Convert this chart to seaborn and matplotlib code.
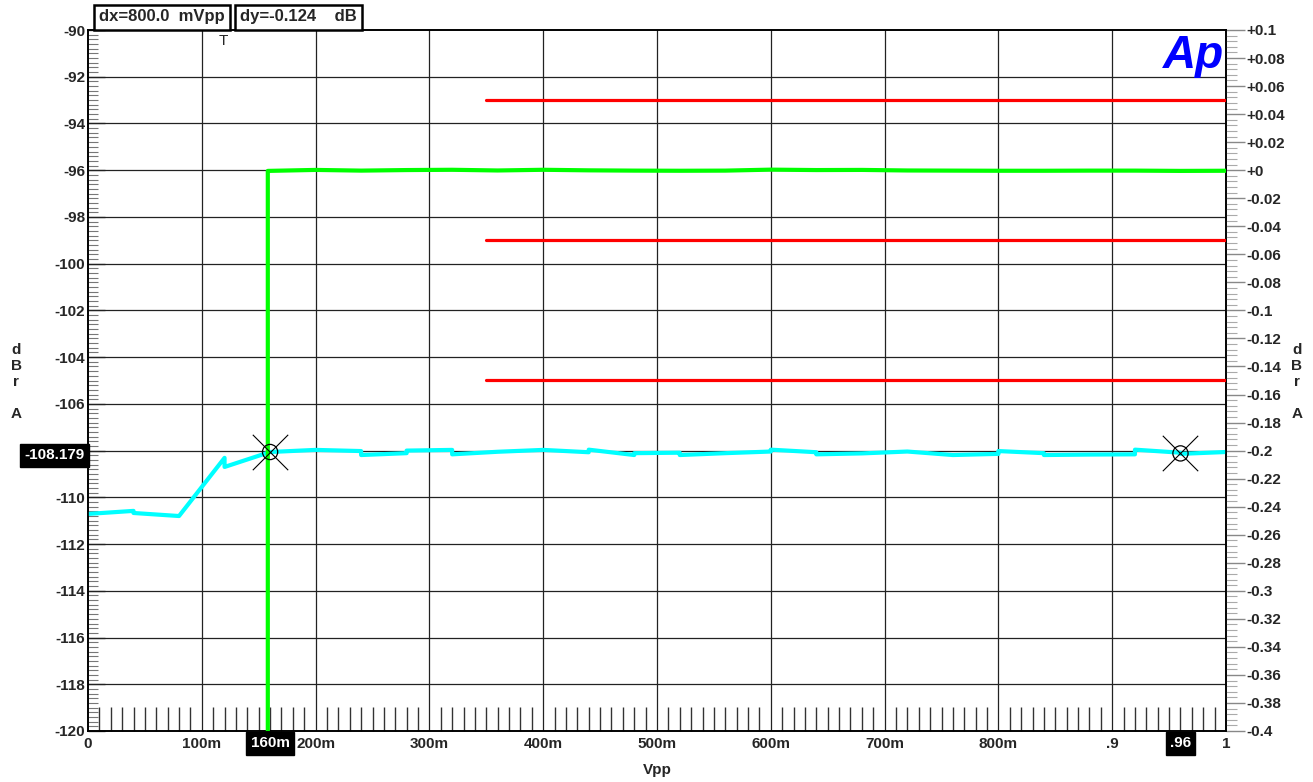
import numpy as np
import pandas as pd
import matplotlib
matplotlib.use("Agg")
import matplotlib.pyplot as plt
import matplotlib.transforms as mtrans
from matplotlib.ticker import MultipleLocator
import seaborn as sns

# ---------------- data ----------------
cyan_x = [0, 0.04, 0.04, 0.08, 0.12, 0.12, 0.16, 0.2, 0.24, 0.24, 0.28, 0.28,
          0.32, 0.32, 0.36, 0.4, 0.44, 0.44, 0.48, 0.48, 0.52, 0.52, 0.56,
          0.6, 0.6, 0.64, 0.64, 0.68, 0.72, 0.76, 0.8, 0.8, 0.84, 0.84,
          0.88, 0.92, 0.92, 0.96, 0.96, 1.0]
cyan_db = [-110.71, -110.58, -110.67, -110.80, -108.31, -108.70, -108.06,
           -107.97, -108.02, -108.19, -108.11, -108.00, -107.97, -108.16,
           -108.05, -107.97, -108.07, -107.96, -108.19, -108.11, -108.09,
           -108.19, -108.11, -108.04, -107.96, -108.07, -108.16, -108.12,
           -108.04, -108.19, -108.14, -108.02, -108.11, -108.19, -108.17,
           -108.16, -107.96, -108.09, -108.14, -108.06]

green_x = [0.158, 0.158, 0.2, 0.24, 0.28, 0.32, 0.36, 0.4, 0.44, 0.48, 0.52,
           0.56, 0.6, 0.64, 0.68, 0.72, 0.76, 0.8, 0.84, 0.88, 0.92, 0.96, 1.0]
green_db = [-0.6, -0.0005, 0.0002, -0.0003, 0.0001, 0.0003, -0.0002, 0.0003,
            -0.0001, -0.0003, -0.0004, -0.0003, 0.0004, 0.0001, 0.0002,
            -0.0002, -0.0003, -0.0004, -0.0004, -0.0003, -0.0003, -0.0005,
            -0.0004]

limit_x = [0.35, 1.0]
limit_levels = [0.05, -0.05, -0.15]

cursor_x = [0.16, 0.96]
cursor_db = [-108.06, -108.12]

x_ticks = [0, 0.1, 0.2, 0.3, 0.4, 0.5, 0.6, 0.7, 0.8, 0.9, 1.0]
x_labels = ["0", "100m", "200m", "300m", "400m", "500m", "600m", "700m",
            "800m", ".9", "1"]
left_ticks = list(range(-120, -89, 2))
right_ticks = [round(-0.4 + 0.02 * i, 2) for i in range(26)]

# ---------------- style ----------------
sns.set_style("white")
plt.rcParams["font.family"] = ["Liberation Sans", "DejaVu Sans"]
plt.rcParams["font.weight"] = "bold"
FS = 11

W, H = 1313, 782
fig = plt.figure(figsize=(W / 100, H / 100), dpi=100)
L, R, T, B = 88, 1226, 30, 731
ax = fig.add_axes([L / W, 1 - B / H, (R - L) / W, (B - T) / H])
ax2 = ax.twinx()

ax.set_xlim(0, 1)
ax.set_ylim(-120, -90)
ax2.set_ylim(-0.4, 0.1)

# grid
for xv in x_ticks[1:-1]:
    ax.axvline(xv, color="#222222", lw=0.9, zorder=1)
for yv in range(-118, -90, 2):
    ax.axhline(yv, color="#222222", lw=0.9, zorder=1)

# cyan trace (left axis)
df_c = pd.DataFrame({"x": cyan_x, "y": cyan_db})
sns.lineplot(data=df_c, x="x", y="y", ax=ax, estimator=None, sort=False,
             color="#00ffff", lw=3.0, zorder=3)

# green trace and red limits (right axis)
df_g = pd.DataFrame({"x": green_x, "y": green_db})
sns.lineplot(data=df_g, x="x", y="y", ax=ax2, estimator=None, sort=False,
             color="#00ff00", lw=3.0, zorder=3)
for lv in limit_levels:
    df_r = pd.DataFrame({"x": limit_x, "y": [lv, lv]})
    sns.lineplot(data=df_r, x="x", y="y", ax=ax2, estimator=None, sort=False,
                 color="#ff0000", lw=2.3, zorder=3)

# cursors (drawn on the top axes so they sit above the traces)
tr_c = ax.transData
ax2.scatter(cursor_x, cursor_db, s=120, facecolors="none", edgecolors="black",
            linewidths=0.9, zorder=6, transform=tr_c)
ax2.scatter(cursor_x, cursor_db, s=650, marker="x", color="black",
            linewidths=0.8, zorder=6, transform=tr_c)

# axes labels / ticks
for a in (ax, ax2):
    a.set_xlabel("")
    a.set_ylabel("")
    for s in a.spines.values():
        s.set_color("black")
        s.set_linewidth(1.2)

ax.set_xticks(x_ticks)
ax.set_xticklabels(x_labels, fontsize=FS, fontweight="bold")
ax.tick_params(axis="x", which="major", length=0, pad=4)
ax.xaxis.set_minor_locator(MultipleLocator(0.01))
ax.tick_params(axis="x", which="minor", direction="in", length=17, width=1,
               color="#333333", bottom=True)

ax.set_yticks(left_ticks)
ax.set_yticklabels(["" if v == -108 else str(v) for v in left_ticks],
                   fontsize=FS, fontweight="bold")
ax.tick_params(axis="y", which="major", direction="in", length=12, width=1,
               color="#555555", pad=2)
ax.yaxis.set_minor_locator(MultipleLocator(0.2))
ax.tick_params(axis="y", which="minor", direction="in", length=7, width=0.8,
               color="#777777", left=True)


def rfmt(v):
    if abs(v) < 1e-9:
        return "+0"
    s = ("%.2f" % v).rstrip("0").rstrip(".")
    if v > 0:
        s = "+" + s
    return s


ax2.set_yticks(right_ticks)
ax2.set_yticklabels([rfmt(v) for v in right_ticks], fontsize=FS,
                    fontweight="bold")
ax2.tick_params(axis="y", which="major", direction="out", length=14, width=1,
                color="#888888", pad=1)
ax2.yaxis.set_minor_locator(MultipleLocator(0.004))
ax2.tick_params(axis="y", which="minor", direction="out", length=8, width=0.8,
                color="#aaaaaa", right=True)

# axis titles
fig.text(657 / W, 1 - 770 / H, "Vpp", ha="center", va="center", fontsize=FS,
         fontweight="bold")
for xx in (16, 1297):
    fig.text(xx / W, 1 - 382 / H, "d\nB\nr\n\nA", ha="center", va="center",
             fontsize=FS, fontweight="bold", linespacing=1.2)

# cursor value boxes
trx = mtrans.blended_transform_factory(ax.transData, ax.transAxes)
bw = dict(boxstyle="square,pad=0.28", fc="black", ec="black")
ax.text(0.16, -0.0175, "160m", transform=trx, ha="center", va="center",
        color="white", fontsize=FS, fontweight="bold", bbox=bw, zorder=10,
        clip_on=False)
ax.text(0.96, -0.0175, ".96", transform=trx, ha="center", va="center",
        color="white", fontsize=FS, fontweight="bold", bbox=bw, zorder=10,
        clip_on=False)
try_ = mtrans.blended_transform_factory(ax.transAxes, ax.transData)
ax.text(-0.003, -108.2, "-108.179", transform=try_, ha="right", va="center",
        color="white", fontsize=FS, fontweight="bold", bbox=bw, zorder=10,
        clip_on=False)

# top readout boxes
box = dict(boxstyle="square,pad=0.3", fc="white", ec="black", lw=1.8)
fig.text(99 / W, 1 - 17 / H, "dx=800.0  mVpp", ha="left", va="center",
         fontsize=12, fontweight="bold", bbox=box)
fig.text(240 / W, 1 - 17 / H, "dy=-0.124    dB", ha="left", va="center",
         fontsize=12, fontweight="bold", bbox=box)
fig.text(223 / W, 1 - 41 / H, "T", ha="center", va="center", fontsize=11,
         fontweight="normal")

# Ap logo
fig.text(1193 / W, 1 - 56 / H, "Ap", ha="center", va="center", fontsize=33,
         fontweight="bold", fontstyle="italic", color="#0000ff")

fig.savefig("out.png", dpi=100)
